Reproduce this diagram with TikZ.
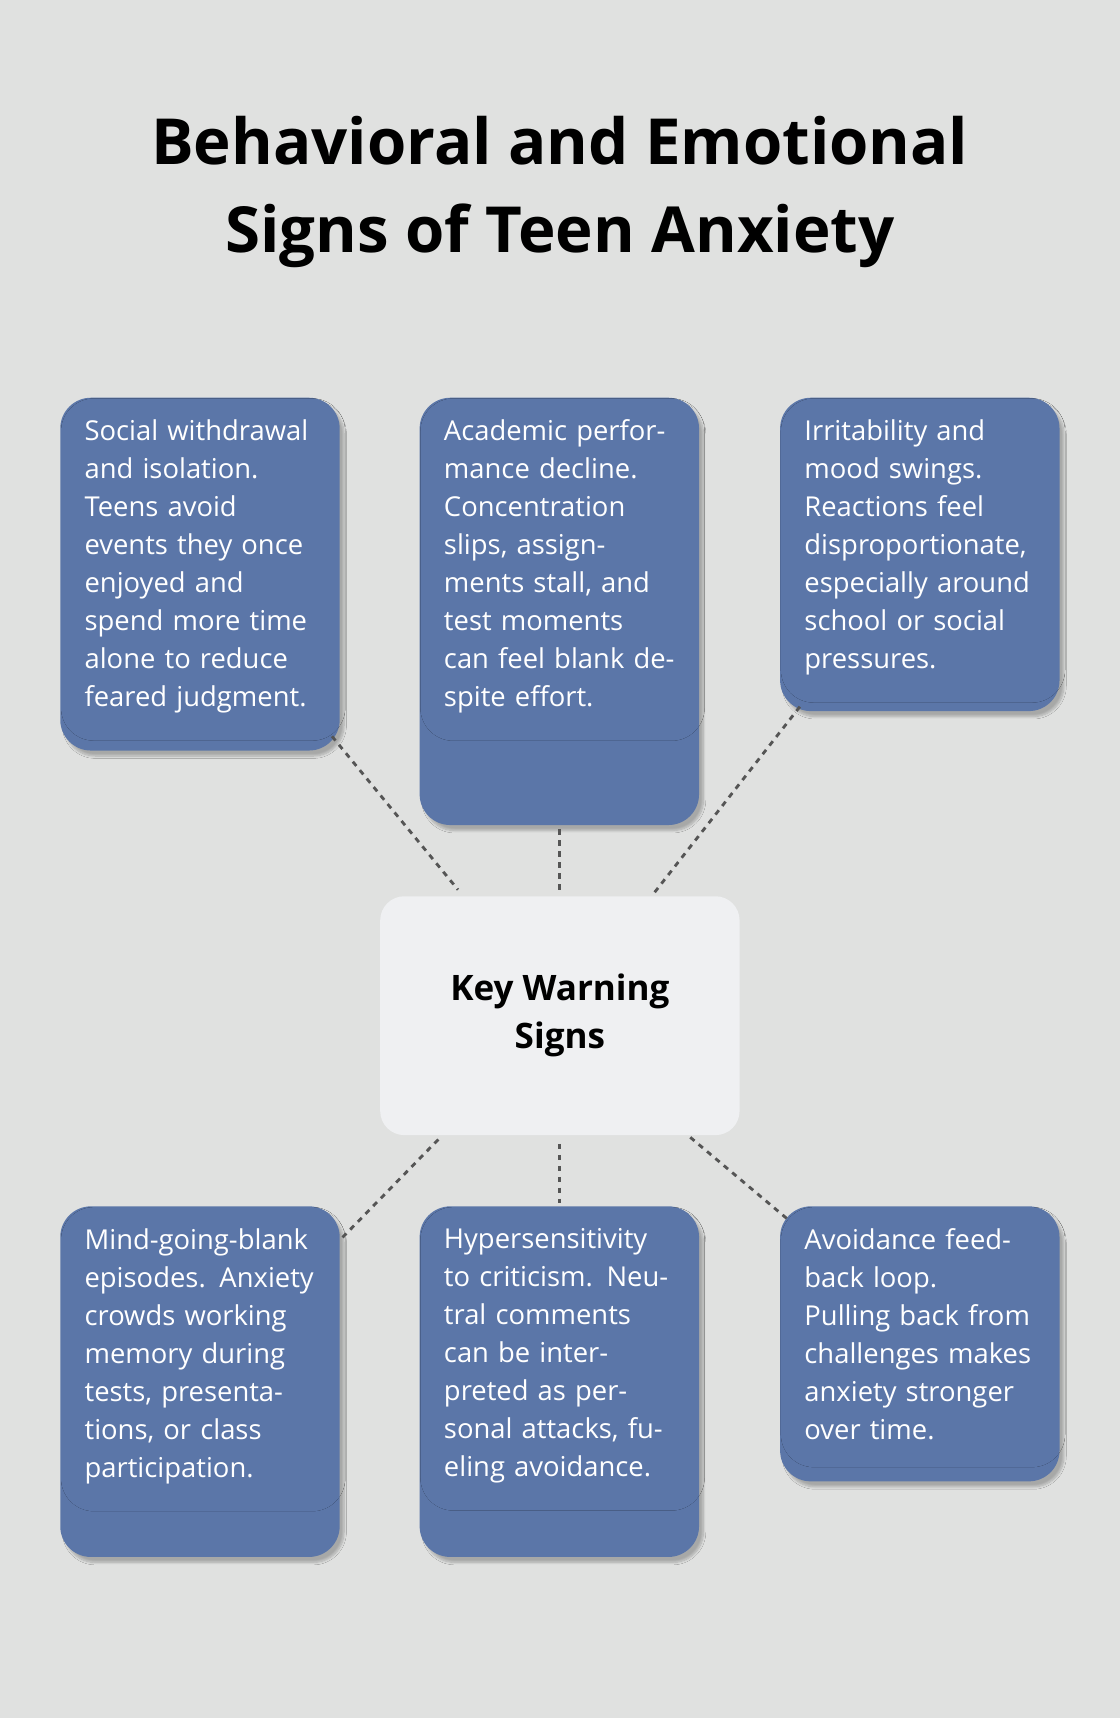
\documentclass[tikz,border=0pt]{standalone}
\usepackage{fontspec}
\setmainfont{Open Sans}
\usetikzlibrary{shadows.blur}
\definecolor{bg}{HTML}{E0E1E0}
\definecolor{boxc}{HTML}{5B76A8}
\definecolor{cen}{HTML}{EFF0F2}
\definecolor{ln}{HTML}{555555}
\begin{document}
\begin{tikzpicture}[x=1pt,y=-1pt,
 card/.style={fill=boxc,rounded corners=28pt,anchor=north west,text=white,align=left,
   text width=211pt,inner xsep=22pt,inner ysep=20pt,font=\fontsize{25}{34.7}\selectfont,
   blur shadow={shadow xshift=4pt,shadow yshift=-5pt,shadow blur steps=8,shadow opacity=25}},
 conn/.style={draw=ln,line width=2.6pt,dash pattern=on 5pt off 5pt}]
\fill[bg] (0,0) rectangle (1022,1568);
\useasboundingbox (0,0) rectangle (1022,1568);
\node[font=\fontsize{58}{80}\selectfont\bfseries,align=center] (title) at (511,175)
 {Behavioral and Emotional\\Signs of Teen Anxiety};
\path[card] (55,363) rectangle (310,685);
\path[card] (383,363) rectangle (638,753);
\path[card] (712,363) rectangle (967,649);
\path[card] (55,1101) rectangle (310,1421);
\path[card] (383,1101) rectangle (638,1421);
\path[card] (712,1101) rectangle (967,1352);
\node[card,shade=none,fill=none,blur shadow={shadow opacity=0}] (a) at (55,363) {Social withdrawal and isolation. Teens avoid events they once enjoyed and spend more time alone to reduce feared judgment.};
\node[card,fill=none,blur shadow={shadow opacity=0}] (b) at (383,363) {Academic performance decline. Concentration slips, assignments stall, and test moments can feel blank despite effort.};
\node[card,fill=none,blur shadow={shadow opacity=0}] (c) at (712,363) {Irritability and mood swings. Reactions feel disproportionate, especially around school or social pressures.};
\node[card,fill=none,blur shadow={shadow opacity=0}] (d) at (55,1101) {Mind-going-blank episodes. Anxiety crowds working memory during tests, presentations, or class participation.};
\node[card,fill=none,blur shadow={shadow opacity=0}] (e) at (383,1101) {Hypersensitivity to criticism. Neutral comments can be interpreted as personal attacks, fueling avoidance.};
\node[card,fill=none,blur shadow={shadow opacity=0}] (f) at (712,1101) {Avoidance feedback loop. Pulling back from challenges makes anxiety stronger over time.};
\path[fill=cen,rounded corners=22pt] (347,818) rectangle (675,1036);
\node[font=\fontsize{32}{44}\selectfont\bfseries,align=center] (k) at (511,927) {Key Warning\\Signs};
\coordinate (a1) at (303,672); \coordinate (a2) at (418,812);
\coordinate (b1) at (511,757); \coordinate (b2) at (511,812);
\coordinate (c1) at (730,645); \coordinate (c2) at (597,815);
\coordinate (d1) at (400,1040); \coordinate (d2) at (312,1130);
\coordinate (e1) at (511,1044); \coordinate (e2) at (511,1098);
\coordinate (f1) at (630,1038); \coordinate (f2) at (718,1112);
\draw[conn] (a1)--(a2); \draw[conn] (b1)--(b2); \draw[conn] (c1)--(c2);
\draw[conn] (d1)--(d2); \draw[conn] (e1)--(e2); \draw[conn] (f1)--(f2);
\end{tikzpicture}
\end{document}
